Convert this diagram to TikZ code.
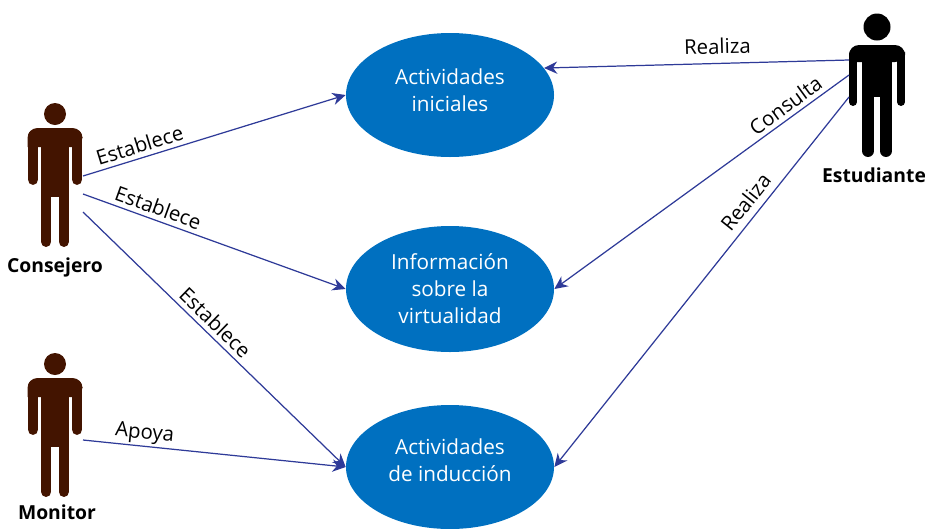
\documentclass[tikz,border=0pt]{standalone}
\usepackage{fontspec}
\setmainfont{Open Sans}
\usetikzlibrary{arrows.meta,shapes.geometric}
\definecolor{azulcaso}{HTML}{0070C0}
\definecolor{azulflecha}{HTML}{2E3A98}
\definecolor{cafeactor}{HTML}{431400}
\tikzset{
  caso/.style={ellipse,fill=azulcaso,text=white,minimum width=208*0.02cm,minimum height=124*0.02cm,inner sep=0pt,align=center,font=\fontsize{11.8}{15.4}\selectfont},
  flecha/.style={draw=azulflecha,line width=0.7pt,-{Stealth[length=7.5pt,width=7pt]}},
  rel/.style={font=\fontsize{11.6}{13}\selectfont,sloped,anchor=south,inner sep=2.5pt},
  actor/.style={font=\fontsize{11}{13}\selectfont\bfseries},
  pics/persona/.style={code={
    \fill (0,11) circle (11);
    \fill [rounded corners=5.7pt] (-27.5,44) -- (-27.5,25) -- (27.5,25) -- (27.5,44) [sharp corners] -- cycle;
    \fill (-14,40) rectangle (14,94);
    \draw [line width=6.2pt,line cap=round] (-22,33) -- (-22,76.5) (22,33) -- (22,76.5);
    \draw [line width=5.9pt,line cap=round] (-8.75,90) -- (-8.75,138.8) (8.75,90) -- (8.75,138.8);
  }}
}
\begin{document}
\begin{tikzpicture}[x=0.02cm,y=-0.02cm]
  \useasboundingbox (0,0) rectangle (925,528);
  % casos de uso
  \node [caso,text depth=6pt] (ini) at (450,95) {Actividades\\iniciales};
  \node [caso,minimum height=126*0.02cm] (inf) at (450,289) {Información\\sobre la\\virtualidad};
  \node [caso,text depth=8pt] (ind) at (450,467) {Actividades\\de inducción};
  % actores
  \path [fill=cafeactor,draw=cafeactor] (55,103) pic {persona};
  \path [fill=cafeactor,draw=cafeactor] (55,353) pic {persona};
  \begin{scope}[shift={(877,12)}]
    \fill (0,15) circle (13.5);
    \fill [rounded corners=5.7pt] (-28,50) -- (-28,33) -- (28,33) -- (28,50) [sharp corners] -- cycle;
    \fill (-15,45) rectangle (15,85);
    \draw [line width=4.5pt,line cap=round] (-24,42) -- (-24,90) (24,42) -- (24,90);
    \draw [line width=6.8pt,line cap=round] (-9,80) -- (-9,139) (9,80) -- (9,139);
  \end{scope}
  \node [actor] (con) at (55,267) {Consejero};
  \node [actor] (mon) at (57,512) {Monitor};
  \node [actor] (est) at (874,175) {Estudiante};
  % salidas de las flechas
  \coordinate (c1) at (83,176);
  \coordinate (c2) at (83,194);
  \coordinate (c3) at (83,212);
  \coordinate (m1) at (83,440);
  \coordinate (e1) at (849,60);
  \coordinate (e2) at (849,75);
  \coordinate (e3) at (849,97);
  \draw [flecha] (c1) -- (ini.west) node [rel,pos=0.23] {Establece};
  \draw [flecha] (c2) -- (inf.west) node [rel,pos=0.27] {Establece};
  \draw [flecha] (c3) -- (ind.west) node [rel,pos=0.47] {Establece};
  \draw [flecha] (m1) -- (ind.west) node [rel,pos=0.23,inner sep=1pt] {Apoya};
  \draw [flecha] (e1) -- (ini.16) node [rel,pos=0.43,inner sep=5pt] {Realiza};
  \draw [flecha] (e2) -- (inf.east) node [rel,pos=0.19] {Consulta};
  \draw [flecha] (e3) -- (ind.east) node [rel,pos=0.31,inner sep=4pt] {Realiza};
\end{tikzpicture}
\end{document}
